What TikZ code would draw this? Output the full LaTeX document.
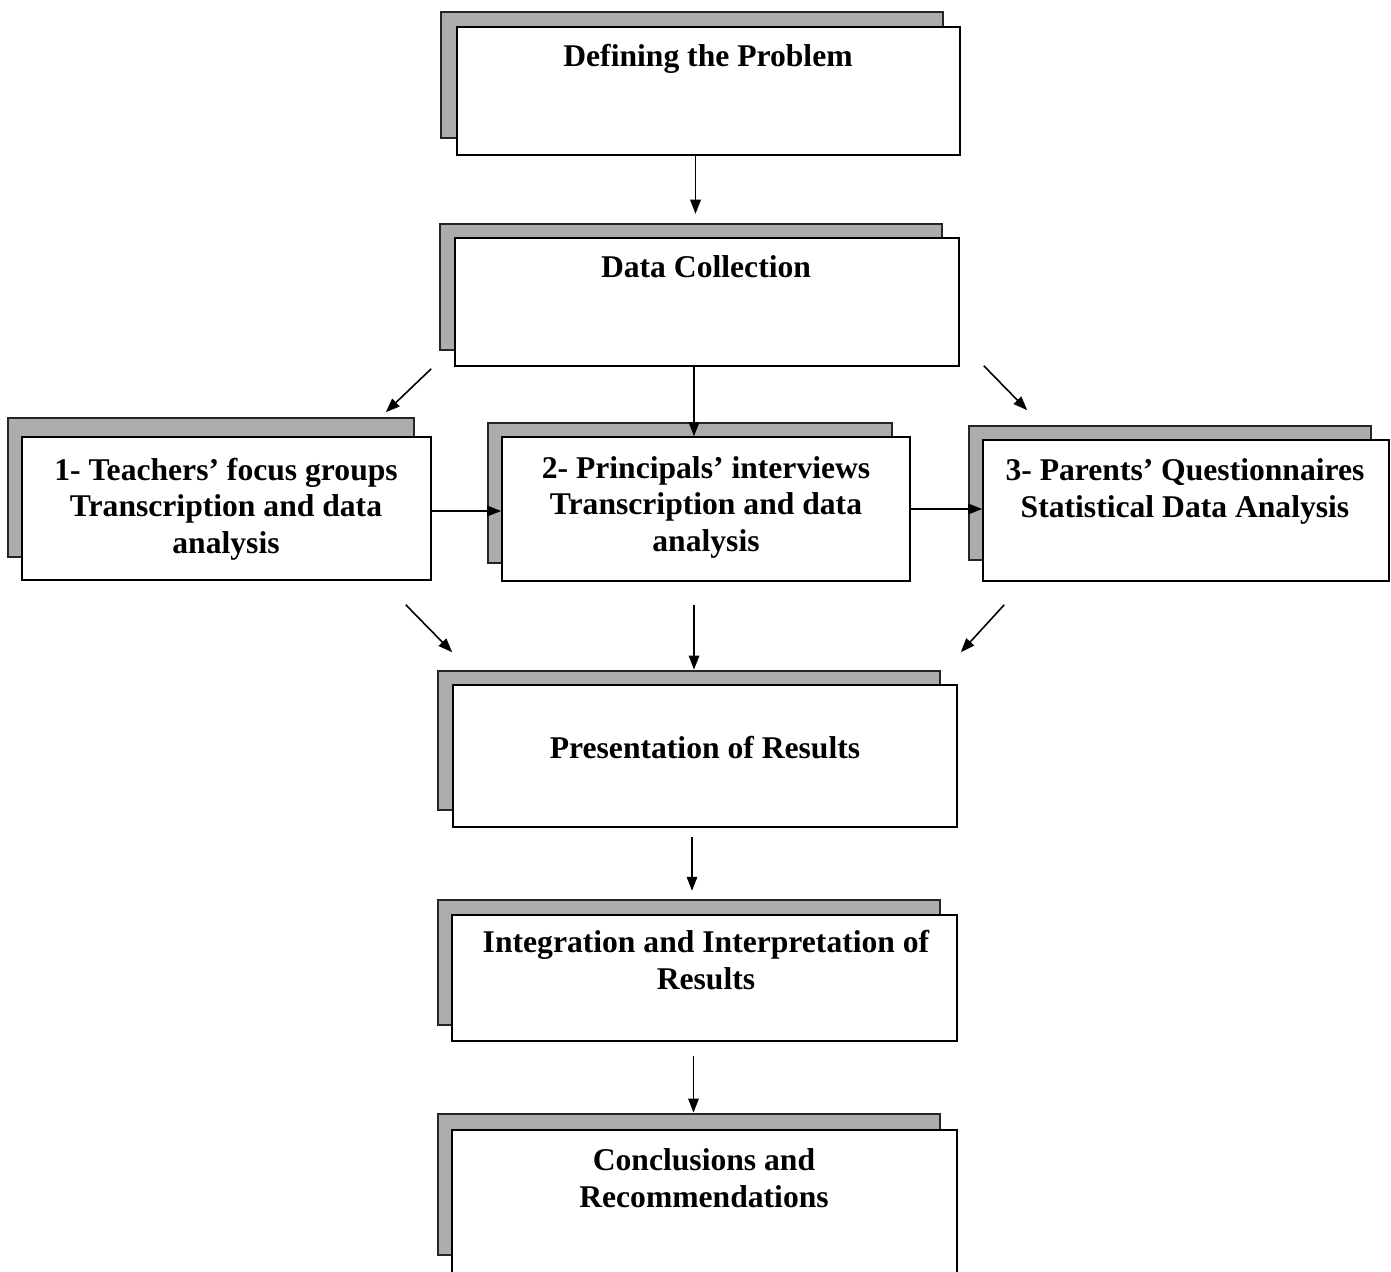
\documentclass[tikz,border=0pt]{standalone}
\usepackage{fontspec}
\setmainfont{Liberation Serif}
\usetikzlibrary{positioning, arrows.meta, fit, calc}
\tikzset{
    stepfront/.style={draw, line width=0.9pt, fill=white, inner sep=0pt},
    stepshadow/.style={draw=black!85, line width=1.6pt, fill=gray!65, inner sep=0pt},
    steptext/.style={font=\fontsize{18}{20.6}\selectfont\bfseries, align=center, anchor=base, inner sep=0pt},
    flow/.style={-{Triangle[length=8pt,width=6pt]}, line width=0.9pt}
}

\begin{document}
\begin{tikzpicture}[x=0.02cm, y=-0.02cm]
    \clip (0,0) rectangle (1391,1271);
    \fill[white] (0,0) rectangle (1391,1271);

    % shadows first
    \node[stepshadow, fit={(441,12) (943,138)}] (probsh) {};
    \node[stepshadow, fit={(440,224) (942,350)}] (collsh) {};
    \node[stepshadow, fit={(8,418) (414,557)}] (teachsh) {};
    \node[stepshadow, fit={(488,423) (892,563)}] (princsh) {};
    \node[stepshadow, fit={(969,426) (1371,560)}] (parsh) {};
    \node[stepshadow, fit={(438,671) (940,810)}] (pressh) {};
    \node[stepshadow, fit={(438,900) (940,1025)}] (intsh) {};
    \node[stepshadow, fit={(438,1114) (940,1255)}] (concsh) {};

    % boxes
    \node[stepfront, fit={(457,27) (960,155)}] (prob) {};
    \node[stepfront, fit={(455,238) (959,366)}] (coll) {};
    \node[stepfront, fit={(22,437) (431,580)}] (teach) {};
    \node[stepfront, fit={(502,437) (910,581)}] (princ) {};
    \node[stepfront, fit={(983,440) (1389,581)}] (par) {};
    \node[stepfront, fit={(453,685) (957,827)}] (pres) {};
    \node[stepfront, fit={(452,915) (957,1041)}] (integ) {};
    \node[stepfront, fit={(452,1130) (957,1300)}] (conc) {};

    % texts (base = last line)
    \node[steptext] (probtxt) at (708,66) {Defining the Problem};
    \node[steptext] (colltxt) at (706,277) {Data Collection};
    \node[steptext] (teachtxt) at (226,553) {1- Teachers’ focus groups\\Transcription and data\\analysis};
    \node[steptext] (princtxt) at (706,551) {2- Principals’ interviews\\Transcription and data\\analysis};
    \node[steptext] (partxt) at (1185,517) {3- Parents’ Questionnaires\\Statistical Data Analysis};
    \node[steptext] (prestxt) at (705,758) {Presentation of Results};
    \node[steptext] (integtxt) at (706,989) {Integration and Interpretation of\\Results};
    \node[steptext] (conctxt) at (704,1207) {Conclusions and\\Recommendations};

    % connectors
    \coordinate (a1) at ($(prob.south)+(-13,0)$);
    \draw[flow] (a1) -- ($(a1)+(0,58)$);
    \coordinate (a2) at ($(coll.south)+(-13,0)$);
    \draw[flow] (a2) -- (a2 |- princ.north);
    \draw[flow] ($(coll.south west)+(-23,2)$) -- ($(teach.north east)+(-46,-24)$);
    \draw[flow] ($(coll.south east)+(24,-1)$) -- ($(par.north west)+(45,-29)$);
    \draw[flow] (teach.east |- 0,511) -- (princ.west |- 0,511);
    \draw[flow] (princ.east |- 0,509) -- (par.west |- 0,509);
    \draw[flow] ($(teach.south east)+(-26,24)$) -- ($(pres.north west)+(0,-32)$);
    \coordinate (a3) at ($(princ.south)+(-12,23)$);
    \draw[flow] (a3) -- (a3 |- pressh.north);
    \draw[flow] ($(par.south west)+(22,23)$) -- ($(pres.north east)+(3,-32)$);
    \coordinate (a4) at ($(pres.south)+(-13,9)$);
    \draw[flow] (a4) -- ($(a4)+(0,54)$);
    \coordinate (a5) at ($(integ.south)+(-11,14)$);
    \draw[flow] (a5) -- (a5 |- concsh.north);
\end{tikzpicture}
\end{document}
